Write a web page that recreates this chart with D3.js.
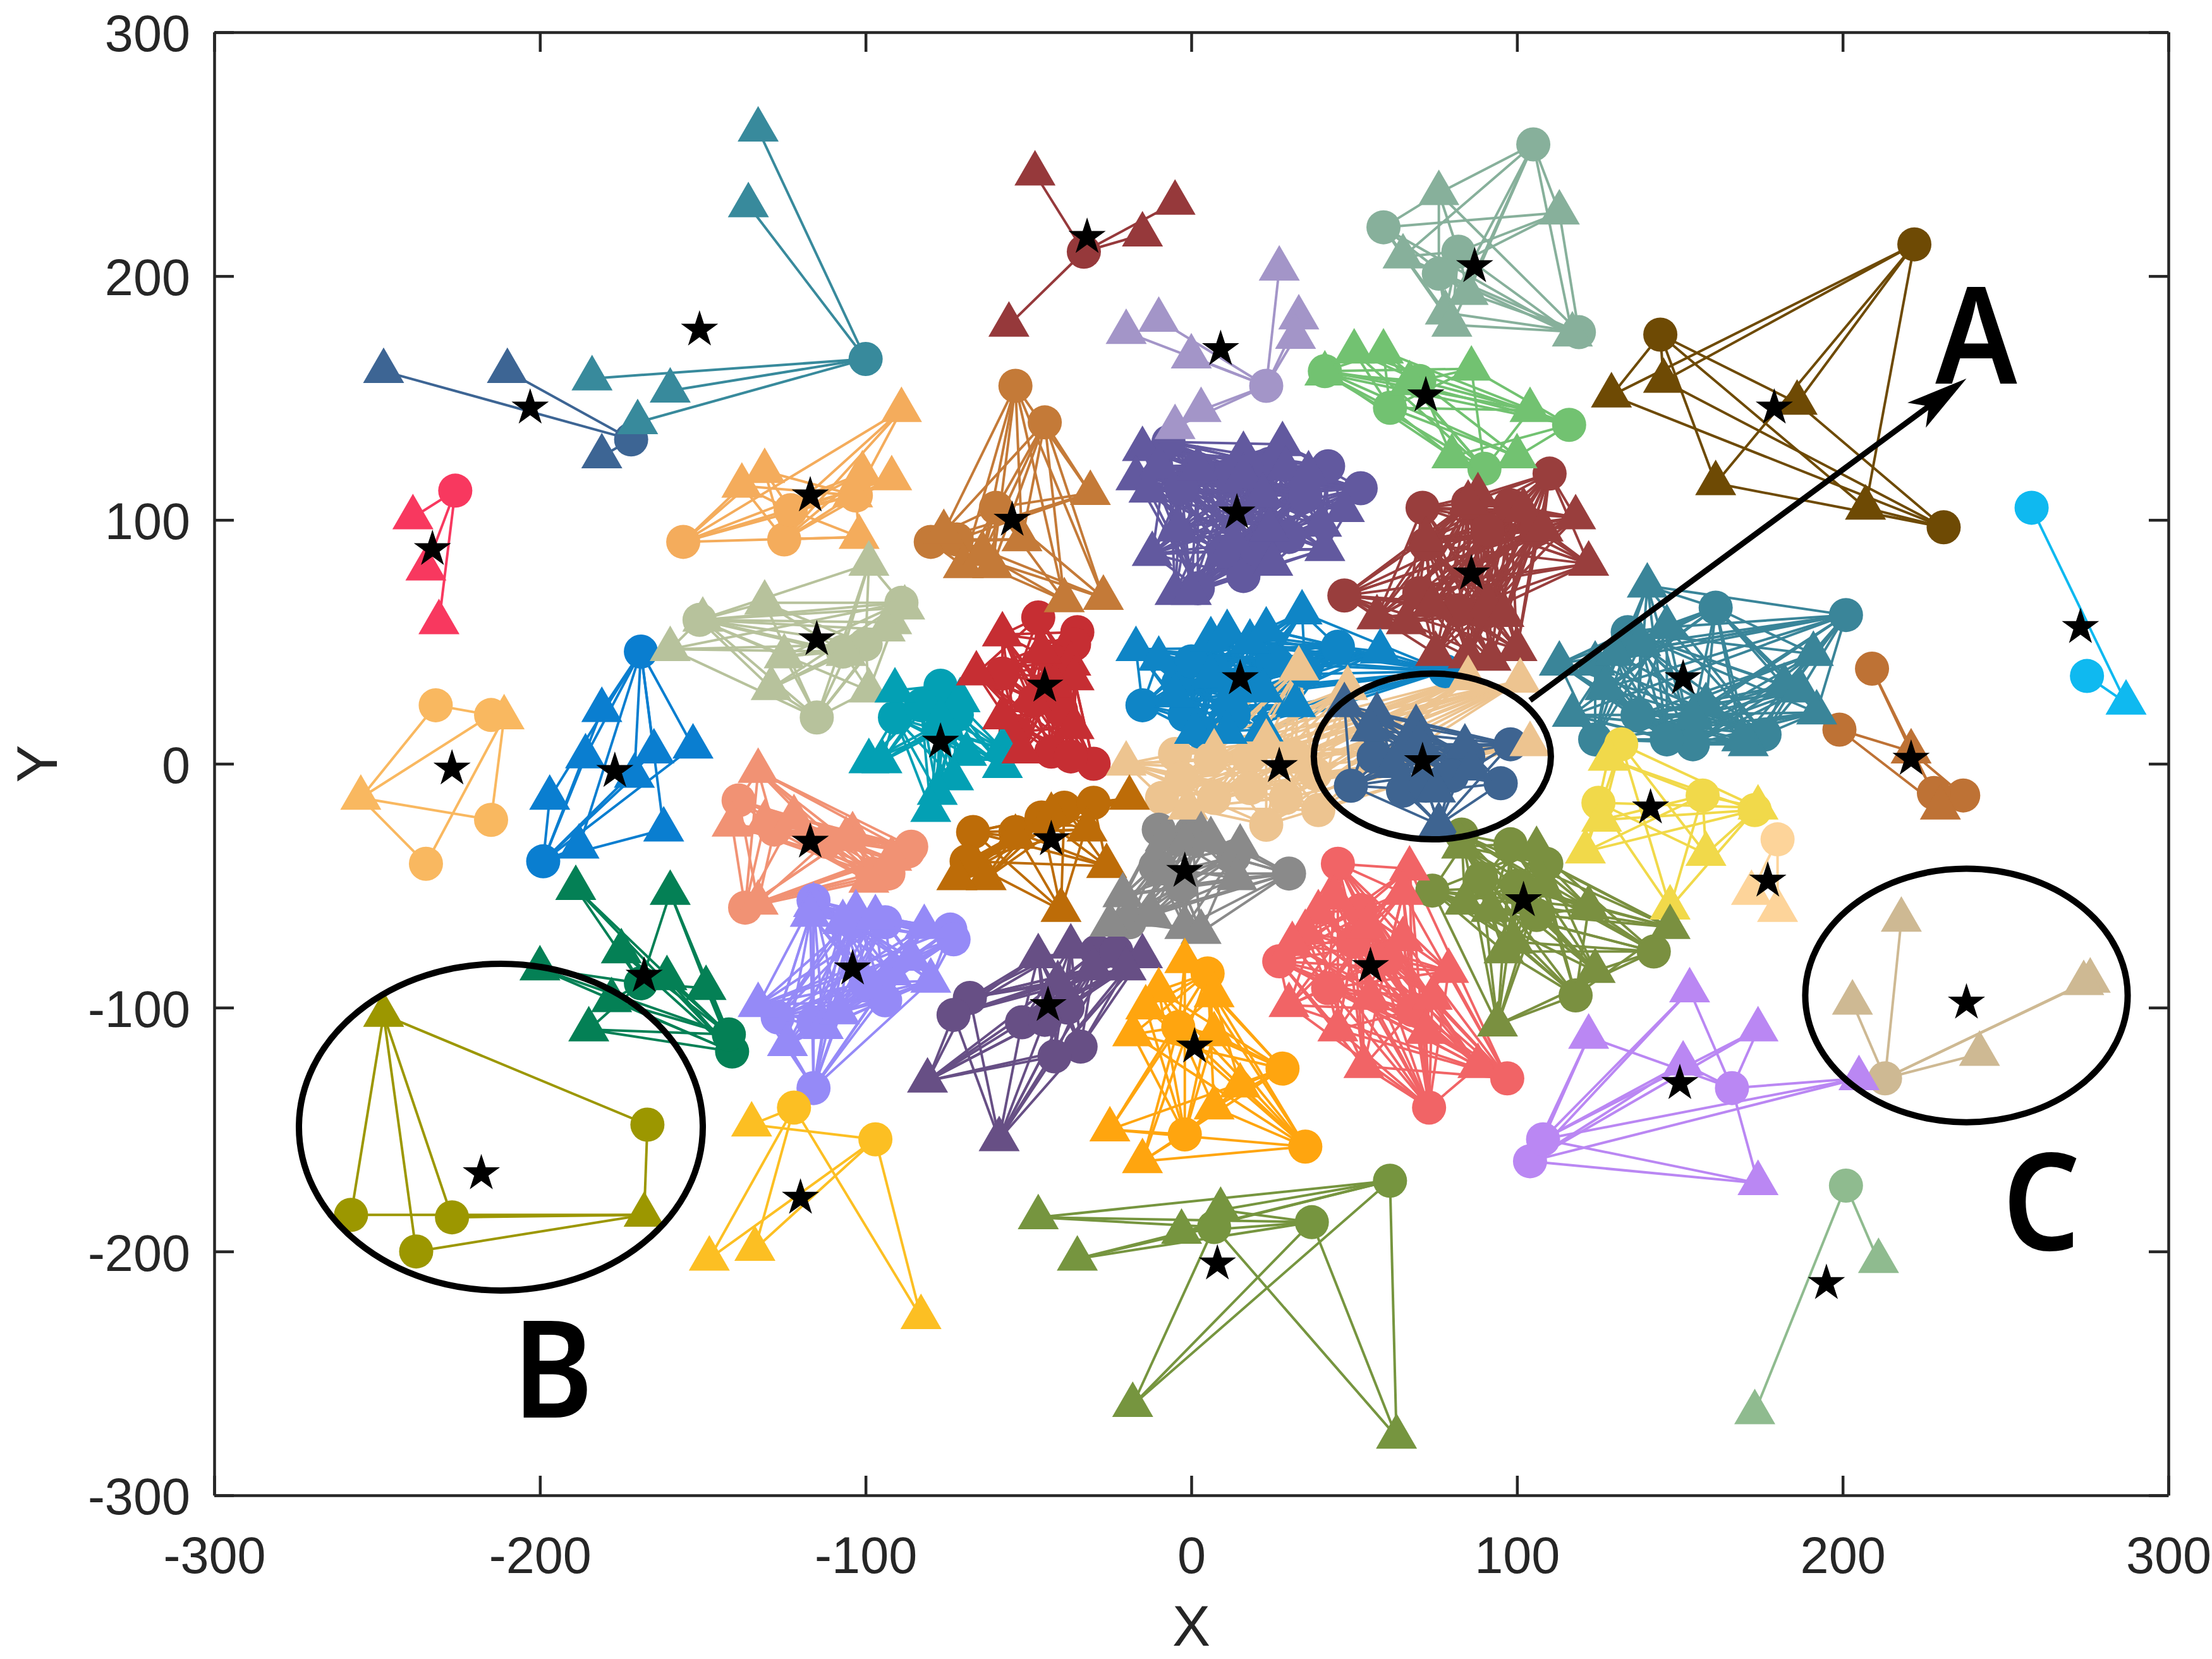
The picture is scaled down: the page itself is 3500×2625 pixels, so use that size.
<!DOCTYPE html>
<html>
<head>
<meta charset="utf-8">
<script src="https://cdn.jsdelivr.net/npm/d3@7"></script>
<style>
  html, body { margin: 0; padding: 0; background: #fff; }
  svg { display: block; }
  .axis text { font-family: "Liberation Sans", Arial, sans-serif; font-size: 81px; fill: #262626; }
  .axis path, .axis line { stroke: #262626; stroke-width: 4.5px; }
  .axis-label { font-family: "Liberation Sans", Arial, sans-serif; font-size: 90px; fill: #262626; text-anchor: middle; }
  .callout { font-family: "Noto Sans", sans-serif; font-weight: 600; font-size: 214px; fill: #000; text-anchor: middle; }
</style>
</head>
<body>
<div id="plot"></div>
<script>
const xTicks = [-300, -200, -100, 0, 100, 200, 300];
const yTicks = [-300, -200, -100, 0, 100, 200, 300];

const clusterColors = [
  "#388A9C", "#3D6594", "#96393B", "#A395C8", "#87B09B", "#72C271", "#6E4A04", "#0FB9F0",
  "#F8385F", "#F4AC5C", "#C47A38", "#62599F", "#993E3D", "#3A8599", "#BE7235", "#B7C29C",
  "#0A7ED0", "#F9B860", "#03A0B4", "#C62E33", "#0F85C6", "#EDC490", "#3E6491", "#BD6C08",
  "#F19274", "#8A8A8A", "#F1D94A", "#7A9040", "#FDD49A", "#CEB993", "#BA87F3", "#F16466",
  "#958AF7", "#674F85", "#FFA50F", "#048055", "#9C9700", "#FCBF23", "#76953F", "#8FBB8F"
];

const starPoints = [
  [-151,178],[-203,146],[-32,216],[9,170],[87,204],[72,151],[179,146],[273,56],
  [-233,88],[-117,110],[-55,100],[14,103],[86,78],[151,35],[221,2],[-115,51],
  [-177,-3],[-227,-2],[-77,9],[-45,32],[15,35],[27,-1],[71,1],[-43,-31],
  [-117,-32],[-2,-44],[141,-18],[102,-56],[177,-48],[238,-98],[150,-131],[55,-83],
  [-104,-84],[-44,-99],[1,-116],[-168,-87],[-218,-168],[-120,-178],[8,-205],[195,-213]
];

const circlePoints = [
  [[-100,166]],
  [[-172,133]],
  [[-33,210]],
  [[23,155]],
  [[105,254],[59,220],[82,210],[76,201],[119,177]],
  [[41,161],[116,139],[90,121],[70,157],[61,146]],
  [[222,213],[144,176],[231,97]],
  [[258,105],[275,36]],
  [[-226,112]],
  [[-156,91],[-125,92],[-123,104],[-103,110]],
  [[-54,155],[-45,140],[-80,91],[-60,105],[-72,92]],
  [[-7,132],[42,122],[52,113],[16,77],[2,72],[30,93],[10,87],[24,123],[2,121],[12,118],[35,110],[-3,113],[20,88]],
  [[71,105],[110,119],[47,69],[106,96],[91,96],[85,107],[98,106],[72,90],[90,62],[70,70],[82,63]],
  [[201,61],[161,64],[134,54],[137,20],[124,10],[154,8],[176,12],[146,10]],
  [[209,39],[199,14],[237,-13],[228,-12]],
  [[-151,59],[-89,66],[-115,19],[-100,49],[-107,46]],
  [[-169,46],[-199,-40]],
  [[-232,24],[-215,20],[-215,-23],[-235,-41]],
  [[-77,32],[-91,19],[-76,14],[-83,24],[-72,20]],
  [[-47,60],[-35,54],[-36,49],[-58,37],[-43,5],[-30,0],[-54,13],[-37,3],[-42,42],[-48,26],[-40,22]],
  [[-15,24],[45,48],[78,38],[3,13],[-2,20],[35,38],[7,38],[-4,33],[18,33],[13,20],[25,42],[0,42]],
  [[-5,4],[-9,-14],[23,-25],[39,-19],[7,-14],[18,3],[32,3],[29,-14],[6,2],[-3,-6],[18,-10],[38,-4]],
  [[98,8],[95,-8],[49,-9],[65,-11],[85,3],[56,3],[72,-9],[80,-5],[68,7]],
  [[-67,-28],[-69,-40],[-39,-18],[-30,-16],[-54,-28],[-46,-22]],
  [[-139,-15],[-128,-27],[-86,-34],[-137,-59],[-98,-45],[-93,-45],[-87,-36],[-112,-32]],
  [[-10,-27],[0,-28],[30,-45],[-19,-65],[-11,-42],[13,-38],[-3,-50]],
  [[132,8],[125,-16],[157,-13],[173,-19]],
  [[83,-29],[98,-33],[109,-41],[74,-52],[142,-77],[118,-95],[89,-47],[100,-50],[106,-62]],
  [[180,-31]],
  [[213,-129]],
  [[104,-163],[108,-154],[166,-133]],
  [[45,-41],[27,-81],[97,-129],[73,-141],[52,-60],[42,-92],[68,-101],[60,-80],[50,-73]],
  [[-116,-56],[-94,-65],[-74,-68],[-73,-72],[-116,-133],[-94,-97],[-127,-104],[-104,-65],[-116,-106],[-100,-90]],
  [[-68,-96],[-73,-103],[-34,-116],[-42,-120],[-29,-77],[-23,-77],[-52,-106],[-38,-100],[-45,-105]],
  [[5,-86],[28,-125],[35,-157],[-2,-152],[-4,-108]],
  [[-141,-118],[-142,-111],[-169,-90]],
  [[-167,-148],[-258,-185],[-227,-186],[-238,-200]],
  [[-122,-141],[-97,-154]],
  [[61,-171],[7,-190],[37,-188]],
  [[201,-173]]
];

const trianglePoints = [
  [[-133,260],[-136,229],[-184,158],[-160,153],[-170,140]],
  [[-248,161],[-210,161],[-181,126]],
  [[-48,242],[-56,180],[-15,217],[-5,230]],
  [[27,203],[33,183],[32,175],[-20,177],[-10,182],[0,167],[3,145],[-5,138]],
  [[76,234],[65,208],[113,226],[117,176],[78,185],[80,180],[85,193]],
  [[50,169],[59,169],[86,162],[104,145],[100,126],[80,126],[41,160],[67,156]],
  [[129,151],[145,157],[186,148],[161,115],[207,105]],
  [[287,25]],
  [[-239,101],[-231,58],[-235,80]],
  [[-89,145],[-131,120],[-138,114],[-101,119],[-92,117],[-102,93],[-104,110]],
  [[-31,111],[-27,68],[-39,67],[-70,81],[-61,81],[-76,95],[-52,92],[-64,86]],
  [[-15,129],[-17,117],[-13,112],[16,127],[28,131],[-12,86],[-5,70],[0,70],[41,88],[25,82],[47,104],[40,98],[2,121],[29,121],[-4,96],[24,96],[13,91],[16,118],[36,119],[-10,122],[22,110]],
  [[88,110],[102,104],[118,101],[122,82],[57,60],[66,58],[75,45],[85,44],[92,43],[100,47],[72,92],[74,65],[91,65],[96,61],[85,107],[108,96]],
  [[140,73],[113,41],[124,41],[117,20],[146,56],[191,45],[192,21],[171,8],[169,10],[182,32],[187,30],[158,24],[127,31],[138,49],[154,19],[130,45]],
  [[221,5],[230,-18]],
  [[-160,47],[-150,59],[-131,66],[-99,82],[-88,64],[-92,58],[-94,55],[-106,45],[-125,44],[-129,31],[-99,30]],
  [[-181,22],[-186,3],[-165,5],[-153,7],[-197,-14],[-188,-34],[-162,-27],[-171,-5]],
  [[-255,-14],[-211,19]],
  [[-91,30],[-71,26],[-99,1],[-95,1],[-69,4],[-58,6],[-58,-1],[-73,-6],[-78,-12],[-80,-19],[-77,18]],
  [[-58,53],[-66,37],[-58,19],[-37,41],[-36,35],[-36,15],[-46,46],[-49,26],[-42,32],[-52,5]],
  [[-17,47],[-10,43],[6,51],[11,54],[18,50],[23,55],[34,62],[58,46],[1,13],[11,13],[22,14],[6,36],[-5,28],[22,30],[32,24],[12,27]],
  [[-20,0],[33,39],[48,31],[101,34],[104,8],[85,35],[23,9],[7,5],[-1,-18]],
  [[47,24],[57,20],[69,15],[84,7],[55,14],[76,-25],[75,-11],[62,-1],[86,-2],[70,8]],
  [[-19,-14],[-26,-42],[-40,-60],[-63,-47],[-54,-30],[-32,-27],[-43,-21],[-72,-47]],
  [[-133,-3],[-141,-25],[-131,-24],[-133,-57],[-104,-29],[-106,-31],[-99,-48],[-92,-39],[-122,-22]],
  [[3,-29],[-8,-31],[-2,-33],[6,-31],[15,-34],[-21,-54],[-25,-66],[-2,-67],[3,-69],[-12,-62],[14,-47],[-8,-45]],
  [[128,2],[121,-36],[158,-37],[174,-18],[147,-59],[126,-23]],
  [[106,-35],[83,-34],[147,-67],[124,-85],[94,-107],[96,-77],[122,-59],[84,-57],[99,-73],[108,-50],[92,-60]],
  [[172,-53],[180,-60]],
  [[218,-64],[203,-98],[242,-119],[276,-89],[274,-90]],
  [[153,-93],[174,-109],[122,-112],[151,-123],[205,-129],[174,-172]],
  [[67,-43],[65,-53],[39,-61],[35,-69],[31,-74],[30,-99],[45,-109],[53,-124],[79,-85],[88,-124],[74,-96],[54,-67],[55,-96],[44,-55],[65,-72],[72,-110]],
  [[-116,-58],[-117,-62],[-103,-61],[-107,-65],[-97,-63],[-82,-67],[-80,-89],[-133,-99],[-124,-115],[-92,-86],[-86,-80],[-113,-108],[-108,-102]],
  [[-81,-130],[-59,-154],[-47,-79],[-37,-75],[-15,-79],[-30,-84],[-41,-90],[-20,-84]],
  [[-2,-81],[-10,-93],[-14,-100],[-18,-111],[7,-95],[-25,-150],[-15,-163],[7,-141],[15,-132],[7,-111]],
  [[-189,-51],[-160,-53],[-200,-84],[-175,-77],[-161,-88],[-149,-92],[-185,-109],[-178,-97]],
  [[-248,-103],[-168,-185]],
  [[-135,-148],[-148,-203],[-134,-199],[-83,-227]],
  [[-47,-186],[-35,-203],[-3,-192],[9,-183],[-18,-263],[63,-276]],
  [[211,-204],[173,-266]]
];

// callouts, in data units
const ellipseCenters = [[74, 3], [-212, -149], [238, -95]];
const ellipseRadii = [[36.4, 34], [62, 67], [49.5, 52]];
const calloutNames = ["A", "B", "C"];
const calloutPoints = [[241, 156], [-196, -268], [261, -199.5]];
const arrowLine = [[104, 26], [238, 158]];

const width = 3500, height = 2625;
const margin = {top: 51, right: 69, bottom: 259, left: 339};

const svg = d3.select("#plot")
  .append("svg")
  .attr("width", width)
  .attr("height", height);

const x = d3.scaleLinear().domain([-300, 300]).range([margin.left, width - margin.right]);
const y = d3.scaleLinear().domain([-300, 300]).range([height - margin.bottom, margin.top]);

// every circle of a cluster is tied to every triangle of it
const lineLayer = svg.append("g");
clusterColors.forEach((color, i) => {
  const links = d3.cross(circlePoints[i], trianglePoints[i]);
  lineLayer.append("g").selectAll("line")
    .data(links)
    .join("line")
    .attr("x1", d => x(d[0][0]))
    .attr("y1", d => y(d[0][1]))
    .attr("x2", d => x(d[1][0]))
    .attr("y2", d => y(d[1][1]))
    .attr("stroke", color)
    .attr("stroke-width", 4);
});

const circleLayer = svg.append("g");
clusterColors.forEach((color, i) => {
  circleLayer.append("g").selectAll("circle")
    .data(circlePoints[i])
    .join("circle")
    .attr("cx", d => x(d[0]))
    .attr("cy", d => y(d[1]))
    .attr("r", 27)
    .attr("fill", color);
});

const triangleLayer = svg.append("g");
const trianglePath = d3.symbol(d3.symbolTriangle, 1829)();
clusterColors.forEach((color, i) => {
  triangleLayer.append("g").selectAll("path")
    .data(trianglePoints[i])
    .join("path")
    .attr("d", trianglePath)
    .attr("transform", d => `translate(${x(d[0])},${y(d[1])})`)
    .attr("fill", color);
});

const starPath = d3.symbol(d3.symbolStar, 1080)();
svg.append("g").selectAll("path")
  .data(starPoints)
  .join("path")
  .attr("d", starPath)
  .attr("transform", d => `translate(${x(d[0])},${y(d[1])})`)
  .attr("fill", "#000");

// axes box, ticks point inward
const plotW = width - margin.left - margin.right;
const plotH = height - margin.top - margin.bottom;

svg.append("g").attr("class", "axis")
  .attr("transform", `translate(0,${height - margin.bottom})`)
  .call(d3.axisBottom(x).tickValues(xTicks).tickSizeInner(-31).tickSizeOuter(0).tickPadding(65).tickFormat(d => d));
svg.append("g").attr("class", "axis")
  .attr("transform", `translate(${margin.left},0)`)
  .call(d3.axisLeft(y).tickValues(yTicks).tickSizeInner(-31).tickSizeOuter(0).tickPadding(38).tickFormat(d => d))
  .selectAll("text").attr("dy", "0.37em");
svg.append("g").attr("class", "axis")
  .attr("transform", `translate(0,${margin.top})`)
  .call(d3.axisTop(x).tickValues(xTicks).tickSizeInner(-31).tickSizeOuter(0).tickFormat(""));
svg.append("g").attr("class", "axis")
  .attr("transform", `translate(${width - margin.right},0)`)
  .call(d3.axisRight(y).tickValues(yTicks).tickSizeInner(-31).tickSizeOuter(0).tickFormat(""));

svg.append("text")
  .attr("class", "axis-label")
  .attr("x", margin.left + plotW / 2)
  .attr("y", 2604)
  .text("X");

svg.append("text")
  .attr("class", "axis-label")
  .attr("transform", `translate(90,${margin.top + plotH / 2}) rotate(-90)`)
  .text("Y");

// ellipses, arrow and letters
svg.append("g").selectAll("ellipse")
  .data(ellipseCenters)
  .join("ellipse")
  .attr("cx", d => x(d[0]))
  .attr("cy", d => y(d[1]))
  .attr("rx", (d, i) => x(ellipseRadii[i][0]) - x(0))
  .attr("ry", (d, i) => y(0) - y(ellipseRadii[i][1]))
  .attr("fill", "none")
  .attr("stroke", "#000")
  .attr("stroke-width", 10);

svg.append("defs").append("marker")
  .attr("id", "arrow-head")
  .attr("markerUnits", "userSpaceOnUse")
  .attr("viewBox", "0 0 98 49")
  .attr("markerWidth", 98)
  .attr("markerHeight", 49)
  .attr("refX", 58)
  .attr("refY", 24.5)
  .attr("orient", "auto")
  .append("path")
  .attr("d", "M0,0 L98,24.5 L0,49 L24,24.5 Z")
  .attr("fill", "#000");

// shaft stops 40px short of the tip so it does not poke through the head
const ax = x(arrowLine[0][0]), ay = y(arrowLine[0][1]);
const bx = x(arrowLine[1][0]), by = y(arrowLine[1][1]);
const arrowLen = Math.hypot(bx - ax, by - ay);
svg.append("line")
  .attr("x1", ax)
  .attr("y1", ay)
  .attr("x2", bx - (bx - ax) / arrowLen * 40)
  .attr("y2", by - (by - ay) / arrowLen * 40)
  .attr("stroke", "#000")
  .attr("stroke-width", 9)
  .attr("marker-end", "url(#arrow-head)");

svg.append("g").selectAll("text")
  .data(calloutNames)
  .join("text")
  .attr("class", "callout")
  .attr("transform", (d, i) => `translate(${x(calloutPoints[i][0])},${y(calloutPoints[i][1])}) scale(0.9,1)`)
  .text(d => d);
</script>
</body>
</html>
